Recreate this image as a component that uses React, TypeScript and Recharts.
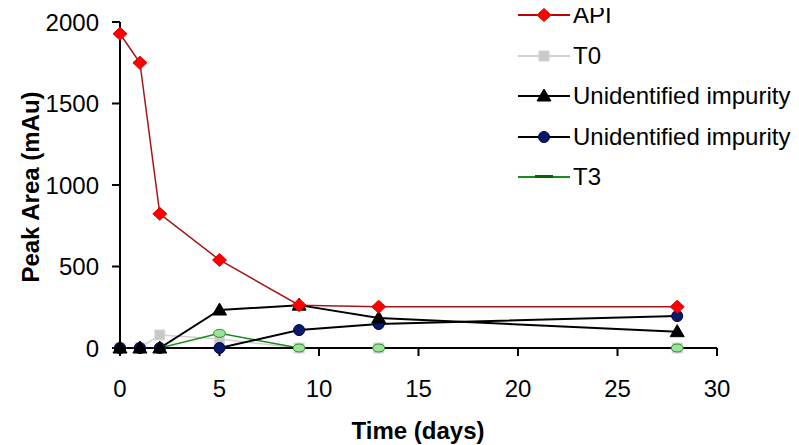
import React from 'react';
import { LineChart, Line, XAxis, YAxis, Label } from 'recharts';

const days = [0, 1, 2, 5, 9, 13, 28];
const apiArea = [1928, 1750, 823, 540, 263, 253, 253];
const t0Area = [0, 0, 80, 55, 0, 0, 0];
const impurityA = [0, 0, 0, 233, 263, 184, 100];
const impurityB = [0, 0, 0, 0, 110, 147, 196];
const t3Area = [0, 0, 0, 90, 0, 0, 0];

const xTicks = [0, 5, 10, 15, 20, 25, 30];
const yTicks = [0, 500, 1000, 1500, 2000];

const seriesNames = ['API', 'T0', 'Unidentified impurity', 'Unidentified impurity', 'T3'];

const data = days.map((d, i) => ({
  day: d,
  api: apiArea[i],
  t0: t0Area[i],
  impA: impurityA[i],
  impB: impurityB[i],
  t3: t3Area[i],
}));

const font = '"Liberation Sans", Arial, sans-serif';

type Shape = 'diamond' | 'square' | 'triangle' | 'circle' | 'dash';

const Marker = ({ cx, cy, shape }: { cx: number; cy: number; shape: Shape }) => {
  switch (shape) {
    case 'diamond':
      return (
        <polygon
          points={`${cx},${cy - 6.5} ${cx + 7},${cy} ${cx},${cy + 6.5} ${cx - 7},${cy}`}
          fill="#ff0000"
          stroke="#e00000"
        />
      );
    case 'square':
      return <rect x={cx - 5} y={cy - 5} width={10} height={10} fill="#c8c8c8" stroke="#d8d8d8" />;
    case 'triangle':
      return (
        <polygon
          points={`${cx},${cy - 7} ${cx + 7},${cy + 5} ${cx - 7},${cy + 5}`}
          fill="#000"
          stroke="#000"
        />
      );
    case 'circle':
      return <circle cx={cx} cy={cy} r={5.5} fill="#0a1a6a" stroke="#000040" />;
    default:
      return <ellipse cx={cx} cy={cy} rx={6} ry={4} fill="#9be39b" stroke="#2e8b2e" strokeWidth={1} />;
  }
};

const dotFor = (shape: Shape) => (props: any) => {
  const { cx, cy, index } = props;
  return <Marker key={`${shape}-${index}`} cx={cx} cy={cy} shape={shape} />;
};

const legendItems: { color: string; shape: Shape }[] = [
  { color: '#c00000', shape: 'diamond' },
  { color: '#d0d0d0', shape: 'square' },
  { color: '#000000', shape: 'triangle' },
  { color: '#000000', shape: 'circle' },
  { color: '#1a8a1a', shape: 'dash' },
];

const LegendBox = () => (
  <div style={{ position: 'absolute', left: 510, top: -13, fontFamily: font, fontSize: 24 }}>
    {legendItems.map((item, i) => (
      <div key={i} style={{ height: 40.5, display: 'flex', alignItems: 'center' }}>
        <svg width={54} height={20} style={{ display: 'block' }}>
          <line x1={0} y1={10} x2={52} y2={10} stroke={item.color} strokeWidth={2} />
          {item.shape === 'dash' ? (
            <rect x={17} y={8} width={18} height={3} fill="#0b5e0b" />
          ) : (
            <Marker cx={26} cy={10} shape={item.shape} />
          )}
        </svg>
        <span style={{ marginLeft: 1, color: '#000', whiteSpace: 'nowrap' }}>{seriesNames[i]}</span>
      </div>
    ))}
  </div>
);

const App: React.FC = () => {
  const tickStyle = { fontFamily: font, fontSize: 24, fill: '#000' };
  return (
    <div style={{ position: 'relative', width: 791, height: 437 }}>
      <LineChart width={791} height={437} data={data} margin={{ top: 14, right: 82, bottom: 17, left: 0 }}>
        <XAxis
          dataKey="day"
          type="number"
          domain={[0, 30]}
          ticks={xTicks}
          tick={tickStyle}
          tickSize={8}
          tickMargin={24}
          height={80}
          stroke="#000"
          strokeWidth={2}
        >
          <Label
            content={() => (
              <text x={410} y={431} textAnchor="middle" fontFamily={font} fontWeight="bold" fontSize={24} fill="#000">
                Time (days)
              </text>
            )}
          />
        </XAxis>
        <YAxis
          type="number"
          domain={[0, 2000]}
          ticks={yTicks}
          tick={tickStyle}
          tickSize={8}
          tickMargin={13}
          width={112}
          stroke="#000"
          strokeWidth={2}
        >
          <Label
            content={() => (
              <text
                x={22}
                y={179}
                transform="rotate(-90 22 179)"
                textAnchor="middle"
                dominantBaseline="central"
                fontFamily={font}
                fontWeight="bold"
                fontSize={24}
                fill="#000"
              >
                Peak Area (mAu)
              </text>
            )}
          />
        </YAxis>
        <Line dataKey="t0" name="T0" stroke="#d0d0d0" strokeWidth={1.5} dot={dotFor('square')} isAnimationActive={false} />
        <Line dataKey="t3" name="T3" stroke="#1a8a1a" strokeWidth={1.5} dot={dotFor('dash')} isAnimationActive={false} />
        <Line dataKey="impB" name="Unidentified impurity" stroke="#000" strokeWidth={2} dot={dotFor('circle')} isAnimationActive={false} />
        <Line dataKey="impA" name="Unidentified impurity" stroke="#000" strokeWidth={2} dot={dotFor('triangle')} isAnimationActive={false} />
        <Line dataKey="api" name="API" stroke="#a01818" strokeWidth={1.5} dot={dotFor('diamond')} isAnimationActive={false} />
      </LineChart>
      <LegendBox />
    </div>
  );
};

export default App;
